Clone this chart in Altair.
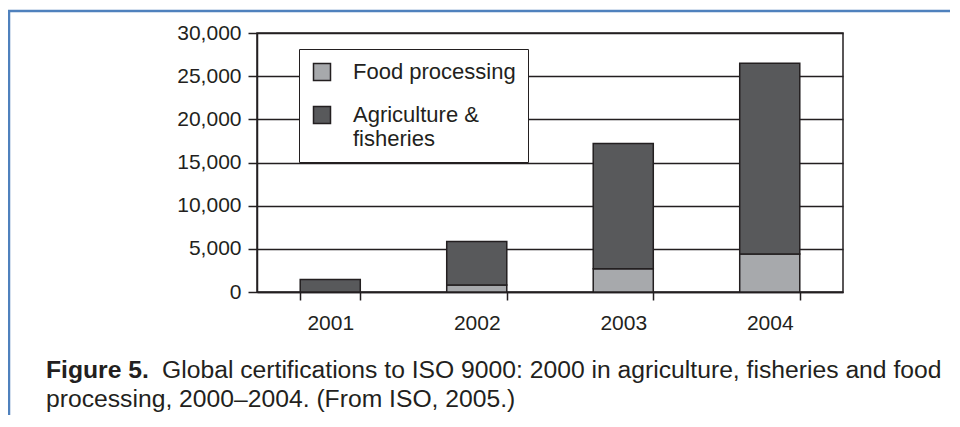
import altair as alt
import pandas as pd

years = ["2001", "2002", "2003", "2004"]
series = ["Food processing", "Agriculture & fisheries"]
food_values = [0, 800, 2700, 4400]
agri_values = [1450, 5050, 14500, 22100]
colors = ["#a7a9ac", "#58595b"]
y_ticks = [0, 5000, 10000, 15000, 20000, 25000, 30000]
caption_bold = "Figure 5."
caption_line1 = "Global certifications to ISO 9000: 2000 in agriculture, fisheries and food"
caption_line2 = "processing, 2000\u20132004. (From ISO, 2005.)"

rows = []
for i, yr in enumerate(years):
    rows.append({"year": yr, "series": series[0], "value": food_values[i], "order": 0})
    rows.append({"year": yr, "series": series[1], "value": agri_values[i], "order": 1})
df = pd.DataFrame(rows)

FONT = "Liberation Sans"
INK = "#231f20"

bars = alt.Chart(df).mark_bar(stroke=INK, strokeWidth=1.5).encode(
    x=alt.X(
        "year:N",
        sort=years,
        scale=alt.Scale(paddingInner=0.59, paddingOuter=0.295),
        axis=alt.Axis(
            title=None, labelAngle=0, tickBand="extent", tickSize=8, tickColor=INK,
            tickWidth=1.5, domainColor=INK, domainWidth=1.5, labelFontSize=21,
            labelFont=FONT, labelColor=INK, labelPadding=12, grid=False,
        ),
    ),
    y=alt.Y(
        "value:Q",
        stack="zero",
        scale=alt.Scale(domain=[0, 30000], nice=False),
        axis=alt.Axis(
            title=None, values=y_ticks, format=",d", tickSize=9, tickColor=INK,
            tickWidth=1.5, domainColor=INK, domainWidth=1.5, labelFontSize=21,
            labelFont=FONT, labelColor=INK, labelPadding=7, grid=True,
            gridColor=INK, gridWidth=1.5, gridOpacity=1,
        ),
    ),
    color=alt.Color(
        "series:N",
        scale=alt.Scale(domain=series, range=colors),
        legend=alt.Legend(
            title=None, orient="none", legendX=42, legendY=16,
            fillColor="white", strokeColor=INK, padding=12,
            symbolType="square", symbolSize=289, symbolStrokeColor=INK,
            symbolStrokeWidth=1.5, symbolOpacity=1,
            labelFontSize=22, labelFont=FONT, labelColor=INK, labelOffset=20,
            rowPadding=19, labelLimit=400,
            labelExpr="datum.label == 'Agriculture & fisheries' ? ['Agriculture &', 'fisheries'] : datum.label",
        ),
    ),
    order=alt.Order("order:Q"),
)

one = alt.Data(values=[{"k": 1}])
frame_top = alt.Chart(one).mark_rule(color="#4f81bd", strokeWidth=2.5).encode(
    x=alt.value(-249), x2=alt.value(720), y=alt.value(-22)
)
frame_left = alt.Chart(one).mark_rule(color="#4f81bd", strokeWidth=2.5).encode(
    x=alt.value(-248), y=alt.value(-23), y2=alt.value(430)
)
cap_b = alt.Chart(one).mark_text(
    text=caption_bold, font=FONT, fontSize=24.7, fontWeight="bold", align="left",
    baseline="alphabetic", color=INK,
).encode(x=alt.value(-211), y=alt.value(345))
cap_1 = alt.Chart(one).mark_text(
    text=caption_line1, font=FONT, fontSize=24.7, align="left",
    baseline="alphabetic", color=INK,
).encode(x=alt.value(-95), y=alt.value(345))
cap_2 = alt.Chart(one).mark_text(
    text=caption_line2, font=FONT, fontSize=24.7, align="left",
    baseline="alphabetic", color=INK,
).encode(x=alt.value(-211), y=alt.value(374))

chart = alt.layer(bars, frame_top, frame_left, cap_b, cap_1, cap_2).properties(
    width=586, height=259,
    autosize=alt.AutoSizeParams(type="none"),
    padding={"left": 249, "top": 25, "right": 107, "bottom": 123},
    background="white",
).configure_view(stroke=INK, strokeWidth=1.5)

chart.save("out.html", embed_options={"renderer": "svg", "actions": False})
